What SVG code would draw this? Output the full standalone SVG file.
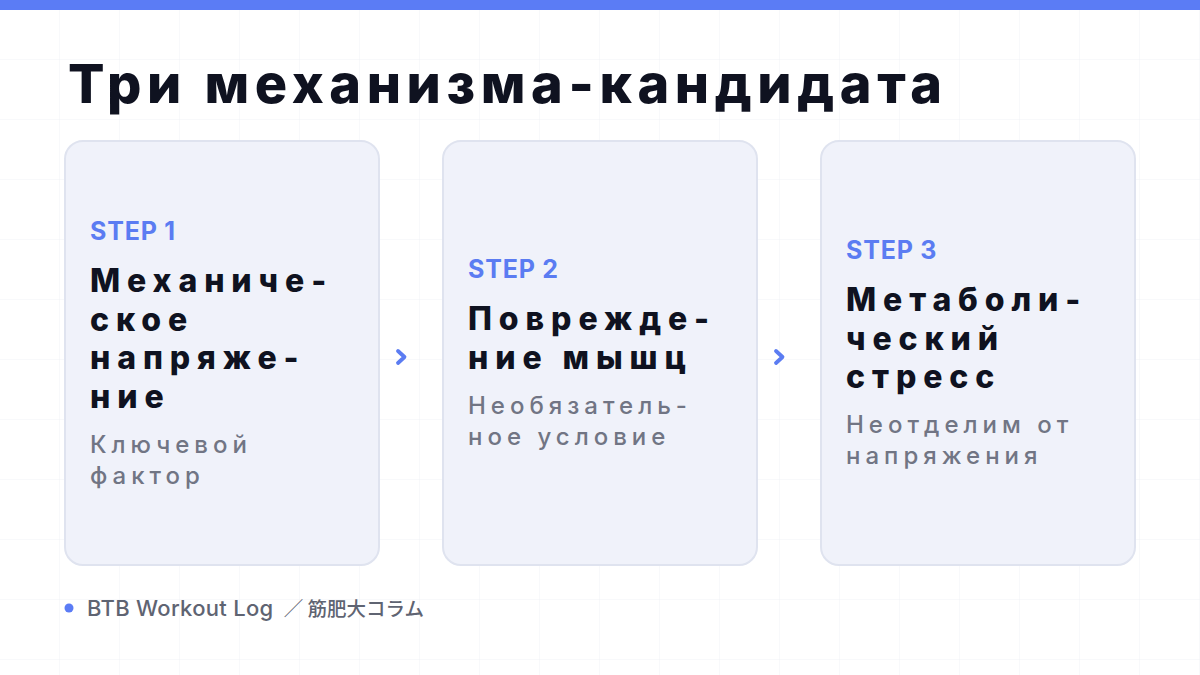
<svg xmlns="http://www.w3.org/2000/svg" width="1200" height="675" viewBox="0 0 1200 675">
<defs>
<pattern id="grid" width="60" height="60" patternUnits="userSpaceOnUse">
<path d="M60 0 V60 M0 60 H60" fill="none" stroke="#f1f2f6" stroke-width="1"/>
</pattern>
<style>
.card{fill:#f0f2fa;stroke:#dfe3ef;stroke-width:2}
.step{font-family:Inter,"Liberation Sans",sans-serif;font-weight:700;font-size:25px;letter-spacing:0.8px;fill:#5b7cf2}
.head{font-family:Inter,"Liberation Sans",sans-serif;font-weight:800;font-size:32px;letter-spacing:6.9px;fill:#0f1220}
.sub{font-family:Inter,"Liberation Sans",sans-serif;font-weight:500;font-size:24px;letter-spacing:5px;fill:#717584}
.title{font-family:Inter,"Liberation Sans",sans-serif;font-weight:800;font-size:54px;letter-spacing:5.6px;fill:#0f1220}
.chev{fill:none;stroke:#5b7cf2;stroke-width:3.8;stroke-linecap:round;stroke-linejoin:round}
.foot{font-family:Inter,"Noto Sans CJK JP",sans-serif;font-weight:500;font-size:22px;letter-spacing:0.3px;fill:#5f6472}
.cjk{font-family:"Noto Sans CJK JP",sans-serif;font-size:19.5px;letter-spacing:0}
</style>
</defs>
<rect width="1200" height="675" fill="#ffffff"/>
<rect width="1200" height="675" fill="url(#grid)"/>
<rect x="0" y="0" width="1200" height="10" fill="#5b7cf5"/>
<text class="title" x="68" y="103">Три механизма-кандидата</text>

<g id="card1">
<rect class="card" x="65" y="141" width="314" height="424" rx="18"/>
<text class="step" x="90" y="240">STEP 1</text>
<text class="head" x="90" y="292">Механиче-</text>
<text class="head" x="90" y="330.5">ское</text>
<text class="head" x="90" y="369">напряже-</text>
<text class="head" x="90" y="407.5">ние</text>
<text class="sub" x="90" y="453">Ключевой</text>
<text class="sub" x="90" y="484">фактор</text>
</g>

<g id="card2">
<rect class="card" x="443" y="141" width="314" height="424" rx="18"/>
<text class="step" x="468" y="278">STEP 2</text>
<text class="head" x="468" y="330">Поврежде-</text>
<text class="head" x="468" y="368.5">ние мышц</text>
<text class="sub" x="468" y="414">Необязатель-</text>
<text class="sub" x="468" y="445">ное условие</text>
</g>

<g id="card3">
<rect class="card" x="821" y="141" width="314" height="424" rx="18"/>
<text class="step" x="846" y="259">STEP 3</text>
<text class="head" x="846" y="311">Метаболи-</text>
<text class="head" x="846" y="349.5">ческий</text>
<text class="head" x="846" y="388">стресс</text>
<text class="sub" x="846" y="433">Неотделим от</text>
<text class="sub" x="846" y="464">напряжения</text>
</g>

<g id="connectors">
<path class="chev" d="M398 351 L404.5 357 L398 363"/>
<path class="chev" d="M776 351 L782.5 357 L776 363"/>
</g>

<g id="footer">
<circle cx="69" cy="608" r="4.5" fill="#5b7cf5"/>
<text class="foot" x="87" y="616">BTB Workout Log <tspan class="cjk" dx="4">／ 筋肥大コラム</tspan></text>
</g>
</svg>
